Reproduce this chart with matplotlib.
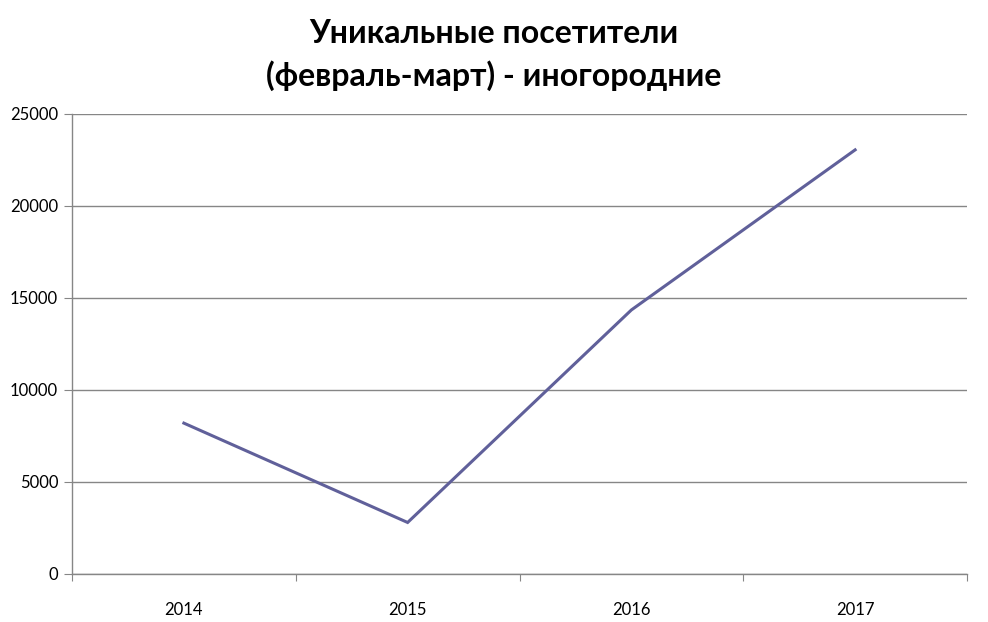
import matplotlib
matplotlib.use("Agg")
import matplotlib.pyplot as plt

years = ["2014", "2015", "2016", "2017"]
visitors = [8200, 2800, 14350, 23050]
y_ticks = [0, 5000, 10000, 15000, 20000, 25000]
title = "Уникальные посетители\n(февраль-март) - иногородние"

plt.rcParams['font.family'] = ['Lato', 'DejaVu Sans']
fig = plt.figure(figsize=(9.88, 6.22), dpi=100)
ax = fig.add_axes([72/988, (622-574)/622, (967-72)/988, (574-114)/622])

x = list(range(len(years)))
ax.plot(x, visitors, color="#60609a", lw=2.2, solid_joinstyle="miter")
ax.set_xlim(-0.5, len(years) - 0.5)
ax.set_ylim(0, 25000)
ax.set_yticks(y_ticks)
ax.set_yticklabels([str(v) for v in y_ticks], fontsize=12)
ax.set_xticks([i - 0.5 for i in range(len(years) + 1)])
ax.set_xticklabels([])
ax.set_xticks(x, minor=True)
ax.set_xticklabels(years, minor=True, fontsize=12)
ax.tick_params(axis='x', which='minor', length=0, pad=20)
ax.tick_params(axis='x', which='major', length=5, color="#868686", direction='out')
ax.tick_params(axis='y', length=6, color="#868686", pad=4)
for s in ["top", "right"]:
    ax.spines[s].set_visible(False)
for s in ["left", "bottom"]:
    ax.spines[s].set_color("#868686")
    ax.spines[s].set_linewidth(1.0)
ax.grid(axis='y', color="#868686", lw=1.0)
ax.set_axisbelow(True)

fig.text(0.5, 1 - 55/622, title, ha='center', va='center', fontsize=23,
         fontweight='bold', linespacing=1.45)
fig.savefig("out.png", dpi=100)
